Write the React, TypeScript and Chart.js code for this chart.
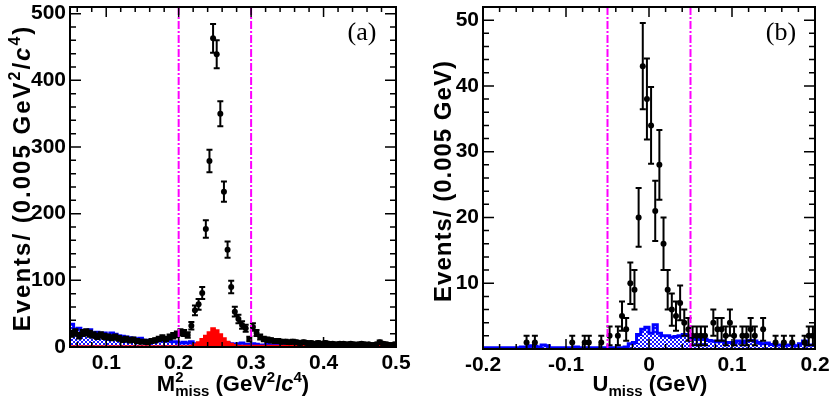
import { useEffect, useRef } from "react";
import { Chart, registerables } from "chart.js";

Chart.register(...registerables);

const BIN = 0.005;

// panel (a): M2miss, 90 bins from 0.05 to 0.5
const massLow = 0.05;
const massHigh = 0.5;
const massData = [
  20, 22, 17, 21, 22, 20, 18, 16, 18, 16,
  15, 14, 15, 13, 11, 12, 10, 11, 9, 8,
  8, 7, 9, 10, 12, 14, 12, 15, 17, 19,
  22, 21, 18, 32, 55, 64, 81, 177, 279, 463,
  439, 350, 233, 146, 90, 53, 42, 33, 28, 12,
  30, 21, 15, 12, 11, 10, 9, 9, 8, 8,
  7, 8, 7, 6, 7, 6, 6, 5, 6, 5,
  6, 5, 5, 4, 5, 5, 4, 5, 4, 4,
  5, 4, 4, 3, 4, 7, 5, 4, 3, 4,
];
const massBackground = [
  34, 27, 28, 23, 25, 26, 21, 22, 20, 21,
  18, 21, 19, 17, 16, 15, 14, 13, 12, 13,
  10, 10, 9, 9, 10, 9, 11, 9, 8, 8,
  6, 7, 6, 8, 5, 4, 4, 3, 3, 3,
  4, 4, 5, 6, 5, 4, 5, 6, 4, 4,
  5, 4, 3, 3, 4, 3, 3, 4, 3, 3,
  3, 5, 6, 5, 3, 3, 2, 3, 3, 2,
  3, 2, 3, 3, 2, 3, 2, 2, 3, 2,
  2, 3, 2, 2, 3, 2, 2, 3, 2, 2,
];
const massSignal = [
  1, 1, 1, 1, 1, 1, 1, 1, 1, 1,
  1, 1, 1, 1, 1, 1, 1, 1, 1, 1,
  1, 1, 1, 1, 1, 1, 1, 1, 1, 1,
  1, 1, 1, 2, 4, 7, 12, 17, 22, 28,
  25, 19, 13, 8, 5, 3, 2, 2, 2, 2,
  2, 2, 2, 2, 2, 2, 2, 2, 2, 2,
  2, 2, 2, 2, 2, 2, 2, 2, 2, 2,
  2, 2, 2, 2, 2, 2, 2, 2, 2, 2,
  2, 2, 2, 2, 2, 2, 2, 2, 2, 2,
];
const massXTicks = [0.1, 0.2, 0.3, 0.4, 0.5];
const massXLabels = ["0.1", "0.2", "0.3", "0.4", "0.5"];
const massYTicks = [0, 100, 200, 300, 400, 500];
const massCuts = [0.2, 0.3];

// panel (b): Umiss, 80 bins from -0.2 to 0.2
const umissLow = -0.2;
const umissHigh = 0.2;
const umissData = [
  0, 0, 0, 0, 0, 0, 0, 0, 0, 0,
  1, 0, 1, 0, 0, 0, 0, 0, 0, 0,
  0, 1, 0, 0, 1, 1, 0, 0, 1, 0,
  2, 0, 2, 5, 3, 10, 9, 20, 43, 38,
  34, 21, 28, 16, 9, 6, 5, 7, 4, 3,
  2, 2, 2, 2, 0, 4, 3, 3, 2, 4,
  2, 0, 2, 2, 3, 2, 0, 3, 0, 0,
  1, 0, 1, 0, 1, 0, 0, 1, 2, 2,
];
const umissBackground = [
  0.2, 0.2, 0.2, 0.2, 0.2, 0.2, 0.2, 0.2, 0.2, 0.3,
  0.3, 0.5, 0.4, 0.3, 0.6, 0.5, 0.2, 0.2, 0.2, 0.2,
  0.2, 0.2, 0.3, 0.2, 0.2, 0.2, 0.2, 0.2, 0.2, 0.2,
  0.2, 0.2, 0.2, 0.2, 0.3, 0.8, 1.0, 2.2, 3.0, 3.3,
  2.4, 3.7, 2.4, 2.0, 2.0, 1.8, 1.9, 2.0, 2.2, 2.1,
  1.7, 1.5, 1.6, 1.5, 1.3, 1.2, 1.1, 1.2, 1.0, 1.0,
  0.9, 1.2, 1.0, 1.2, 1.3, 1.2, 1.0, 0.8, 0.9, 0.7,
  0.6, 0.6, 0.5, 0.6, 0.6, 0.5, 0.8, 1.2, 0.6, 0.6,
];
const umissXTicks = [-0.2, -0.1, 0, 0.1, 0.2];
const umissXLabels = ["-0.2", "-0.1", "0", "0.1", "0.2"];
const umissYTicks = [10, 20, 30, 40, 50];
const umissCuts = [-0.05, 0.05];

const FONT = "Liberation Sans";

type Piece = { t: string; size: number; italic?: boolean; dy?: number; stack?: boolean };

type PanelSpec = {
  xMinor: number;
  yMinor: number;
  cuts: number[];
  tag: string;
  tagX: number;
  xTitle: Piece[];
  xTitleX: number;
  yTitle: Piece[];
  yTitleX: number;
  yTitleY: number;
  ySpacing: number;
};

const pieceFont = (p: Piece) =>
  `${p.italic ? "italic " : ""}bold ${p.size}px "${FONT}"`;

// text with super/subscripts, centred on (cx, baseline)
function drawRich(
  ctx: CanvasRenderingContext2D,
  pieces: Piece[],
  cx: number,
  cy: number,
  rotate: boolean,
  spacing = 0
) {
  ctx.save();
  ctx.translate(cx, cy);
  if (rotate) ctx.rotate(-Math.PI / 2);
  (ctx as any).letterSpacing = `${spacing}px`;
  const widths = pieces.map((p) => {
    ctx.font = pieceFont(p);
    return ctx.measureText(p.t).width;
  });
  const xs: number[] = [];
  let x = 0;
  let start = 0;
  let w = 0;
  pieces.forEach((p, i) => {
    if (p.stack) {
      xs.push(start);
      w = Math.max(w, widths[i]);
      x = start + w;
    } else {
      xs.push(x);
      start = x;
      w = widths[i];
      x += w;
    }
  });
  ctx.fillStyle = "#000";
  ctx.textAlign = "left";
  ctx.textBaseline = "alphabetic";
  pieces.forEach((p, i) => {
    ctx.font = pieceFont(p);
    ctx.fillText(p.t, xs[i] - x / 2, p.dy || 0);
  });
  ctx.restore();
}

function decor(spec: PanelSpec) {
  return {
    id: "decor",
    afterDraw(chart: any) {
      const { ctx, chartArea: a, scales } = chart;
      const xs = scales.x;
      const ys = scales.y;

      ctx.save();
      ctx.beginPath();
      ctx.rect(a.left, a.top, a.right - a.left, a.bottom - a.top);
      ctx.clip();

      // error bars
      chart.data.datasets.forEach((ds: any, di: number) => {
        if (!ds.errors) return;
        const meta = chart.getDatasetMeta(di);
        ctx.strokeStyle = "#000";
        ctx.lineWidth = 2;
        ctx.beginPath();
        meta.data.forEach((pt: any, i: number) => {
          const v = ds.data[i].y;
          const e = ds.errors[i];
          const y1 = ys.getPixelForValue(v + e);
          const y2 = ys.getPixelForValue(Math.max(v - e, 0));
          ctx.moveTo(pt.x, y1);
          ctx.lineTo(pt.x, y2);
          ctx.moveTo(pt.x - 3, y1);
          ctx.lineTo(pt.x + 3, y1);
          ctx.moveTo(pt.x - 3, y2);
          ctx.lineTo(pt.x + 3, y2);
        });
        ctx.stroke();
      });

      // selection cuts
      ctx.strokeStyle = "#ff00ff";
      ctx.lineWidth = 2;
      ctx.setLineDash([8, 2, 2, 2]);
      spec.cuts.forEach((c) => {
        const px = xs.getPixelForValue(c);
        ctx.beginPath();
        ctx.moveTo(px, a.top);
        ctx.lineTo(px, a.bottom);
        ctx.stroke();
      });
      ctx.setLineDash([]);
      ctx.restore();

      // frame and inner ticks on all sides
      ctx.save();
      ctx.strokeStyle = "#000";
      ctx.lineWidth = 2;
      ctx.strokeRect(a.left, a.top, a.right - a.left, a.bottom - a.top);
      ctx.lineWidth = 1.5;
      ctx.beginPath();
      let k0 = Math.ceil(xs.min / spec.xMinor - 1e-9);
      let k1 = Math.floor(xs.max / spec.xMinor + 1e-9);
      for (let k = k0; k <= k1; k++) {
        const len = Math.abs(k) % 5 === 0 ? 10 : 5;
        const p = xs.getPixelForValue(k * spec.xMinor);
        ctx.moveTo(p, a.bottom);
        ctx.lineTo(p, a.bottom - len);
        ctx.moveTo(p, a.top);
        ctx.lineTo(p, a.top + len);
      }
      k0 = Math.ceil(ys.min / spec.yMinor - 1e-9);
      k1 = Math.floor(ys.max / spec.yMinor + 1e-9);
      for (let k = k0; k <= k1; k++) {
        const len = Math.abs(k) % 5 === 0 ? 11 : 6;
        const p = ys.getPixelForValue(k * spec.yMinor);
        ctx.moveTo(a.left, p);
        ctx.lineTo(a.left + len, p);
        ctx.moveTo(a.right, p);
        ctx.lineTo(a.right - len, p);
      }
      ctx.stroke();
      ctx.restore();

      // titles and panel tag
      drawRich(ctx, spec.xTitle, spec.xTitleX, 391, false);
      drawRich(ctx, spec.yTitle, spec.yTitleX, spec.yTitleY, true, spec.ySpacing);
      ctx.save();
      ctx.fillStyle = "#000";
      ctx.font = `26px "Liberation Serif"`;
      ctx.textAlign = "center";
      ctx.textBaseline = "alphabetic";
      ctx.fillText(spec.tag, spec.tagX, 40);
      ctx.restore();
    },
  };
}

const stepPoints = (lo: number, values: number[]) => [
  ...values.map((y, i) => ({ x: lo + i * BIN, y })),
  { x: lo + values.length * BIN, y: values[values.length - 1] },
];

const centrePoints = (lo: number, values: number[]) =>
  values
    .map((y, i) => ({ x: lo + (i + 0.5) * BIN, y }))
    .filter((p) => p.y > 0);

function makeHatch() {
  const c = document.createElement("canvas");
  c.width = 4;
  c.height = 4;
  const g = c.getContext("2d")!;
  g.fillStyle = "#ffffff";
  g.fillRect(0, 0, 4, 4);
  g.fillStyle = "#1515ff";
  for (let i = 0; i < 4; i++) {
    g.fillRect(i, i, 1, 1);
    g.fillRect(3 - i, i, 1, 1);
  }
  return g.createPattern(c, "repeat")!;
}

function panelOptions(
  xMin: number,
  xMax: number,
  yMax: number,
  xTicks: number[],
  xLabels: string[],
  yTicks: number[],
  yWidth: number,
  xHeight: number,
  rightPad: number
): any {
  const tickFont = { family: FONT, weight: "bold" as const, size: 21 };
  return {
    responsive: false,
    animation: false,
    layout: { padding: { left: 0, right: rightPad, top: 7, bottom: 0 } },
    plugins: { legend: { display: false }, tooltip: { enabled: false } },
    scales: {
      x: {
        type: "linear",
        min: xMin,
        max: xMax,
        grid: { display: false, drawTicks: false },
        border: { display: false },
        afterBuildTicks: (s: any) => {
          s.ticks = xTicks.map((value) => ({ value }));
        },
        afterFit: (s: any) => {
          s.height = xHeight;
          s.paddingLeft = 0;
          s.paddingRight = 0;
        },
        ticks: {
          autoSkip: false,
          maxRotation: 0,
          padding: 4,
          color: "#000",
          font: tickFont,
          callback: (_v: any, i: number) => xLabels[i],
        },
      },
      y: {
        min: 0,
        max: yMax,
        grid: { display: false, drawTicks: false },
        border: { display: false },
        afterBuildTicks: (s: any) => {
          s.ticks = yTicks.map((value) => ({ value }));
        },
        afterFit: (s: any) => {
          s.width = yWidth;
          s.paddingTop = 0;
          s.paddingBottom = 0;
        },
        ticks: {
          autoSkip: false,
          padding: 4,
          color: "#000",
          font: tickFont,
          callback: (v: any) => String(v),
        },
      },
    },
  };
}

export default function App() {
  const massRef = useRef<HTMLCanvasElement>(null);
  const umissRef = useRef<HTMLCanvasElement>(null);

  useEffect(() => {
    if (!massRef.current || !umissRef.current) return;
    const hatch = makeHatch();

    const massPoints = centrePoints(massLow, massData);
    const umissPoints = centrePoints(umissLow, umissData);

    const massChart = new Chart(massRef.current, {
      type: "line",
      data: {
        datasets: [
          {
            label: "data",
            data: massPoints,
            showLine: false,
            pointRadius: 3,
            pointBorderWidth: 0,
            pointBackgroundColor: "#000",
            errors: massPoints.map((p) => Math.sqrt(p.y)),
          } as any,
          {
            label: "signal MC",
            data: stepPoints(massLow, massSignal),
            stepped: "before",
            borderColor: "#ff0000",
            borderWidth: 2,
            backgroundColor: "#ff0000",
            fill: "origin",
            pointRadius: 0,
          },
          {
            label: "background",
            data: stepPoints(massLow, massBackground),
            stepped: "before",
            borderColor: "#0000ff",
            borderWidth: 3,
            backgroundColor: hatch,
            fill: "origin",
            pointRadius: 0,
          },
        ],
      },
      options: panelOptions(massLow, massHigh, 510, massXTicks, massXLabels, massYTicks, 70, 61, 19),
      plugins: [
        decor({
          xMinor: 0.02,
          yMinor: 20,
          cuts: massCuts,
          tag: "(a)",
          tagX: 362,
          xTitle: [
            { t: "M", size: 22 },
            { t: "2", size: 15, dy: -9 },
            { t: "miss", size: 15, dy: 5, stack: true },
            { t: " (GeV", size: 22 },
            { t: "2", size: 15, dy: -9 },
            { t: "/", size: 22 },
            { t: "c", size: 22, italic: true },
            { t: "4", size: 15, dy: -9 },
            { t: ")", size: 22 },
          ],
          xTitleX: 233,
          yTitle: [
            { t: "Events/ (0.005 GeV", size: 24 },
            { t: "2", size: 16, dy: -10 },
            { t: "/", size: 24 },
            { t: "c", size: 24, italic: true },
            { t: "4", size: 16, dy: -10 },
            { t: ")", size: 24 },
          ],
          yTitleX: 30,
          yTitleY: 178,
          ySpacing: 2,
        }),
      ],
    });

    const umissChart = new Chart(umissRef.current, {
      type: "line",
      data: {
        datasets: [
          {
            label: "data",
            data: umissPoints,
            showLine: false,
            pointRadius: 3,
            pointBorderWidth: 0,
            pointBackgroundColor: "#000",
            errors: umissPoints.map((p) => Math.sqrt(p.y)),
          } as any,
          {
            label: "background",
            data: stepPoints(umissLow, umissBackground),
            stepped: "before",
            borderColor: "#0000ff",
            borderWidth: 3,
            backgroundColor: hatch,
            fill: "origin",
            pointRadius: 0,
          },
        ],
      },
      options: panelOptions(umissLow, umissHigh, 52, umissXTicks, umissXLabels, umissYTicks, 68, 59, 15),
      plugins: [
        decor({
          xMinor: 0.02,
          yMinor: 2,
          cuts: umissCuts,
          tag: "(b)",
          tagX: 366,
          xTitle: [
            { t: "U", size: 22 },
            { t: "miss", size: 15, dy: 5 },
            { t: " (GeV)", size: 22 },
          ],
          xTitleX: 235,
          yTitle: [{ t: "Events/ (0.005 GeV)", size: 24 }],
          yTitleX: 36,
          yTitleY: 181,
          ySpacing: 1,
        }),
      ],
    });

    return () => {
      massChart.destroy();
      umissChart.destroy();
    };
  }, []);

  return (
    <div style={{ position: "absolute", left: 0, top: 0, width: 830, height: 408, background: "#fff" }}>
      <canvas ref={massRef} width={415} height={408} style={{ position: "absolute", left: 0, top: 0 }} />
      <canvas ref={umissRef} width={415} height={408} style={{ position: "absolute", left: 415, top: 0 }} />
    </div>
  );
}
